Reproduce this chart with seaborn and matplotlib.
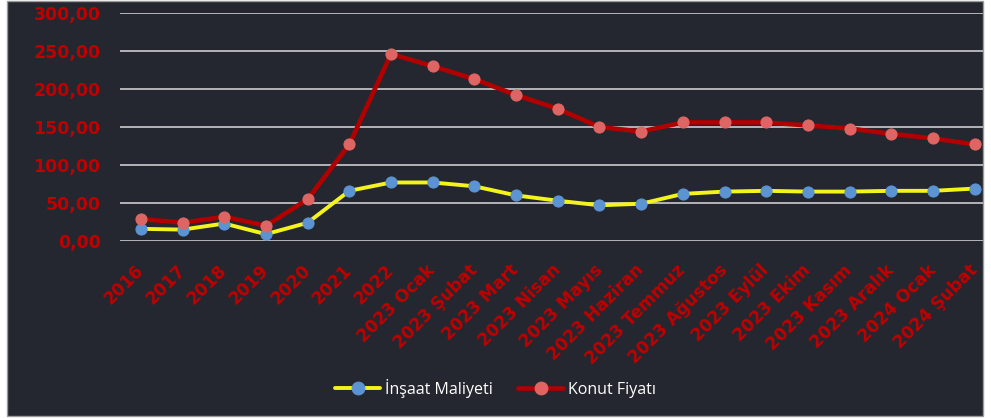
import numpy as np
import pandas as pd
import matplotlib
matplotlib.use("Agg")
import matplotlib.pyplot as plt
from matplotlib.patches import Rectangle
import seaborn as sns

# data
periods = [
    "2016", "2017", "2018", "2019", "2020", "2021", "2022",
    "2023 Ocak", "2023 Şubat", "2023 Mart", "2023 Nisan", "2023 Mayıs",
    "2023 Haziran", "2023 Temmuz", "2023 Ağustos", "2023 Eylül", "2023 Ekim",
    "2023 Kasım", "2023 Aralık", "2024 Ocak", "2024 Şubat",
]
insaat_maliyeti = [16, 15, 23, 9, 24, 66, 77, 77, 72, 60, 53, 47,
                   49, 62, 65, 66, 65, 65, 66, 66, 69]
konut_fiyati = [29, 24, 32, 20, 55, 127, 246, 230, 213, 192, 174, 150,
                144, 156, 156, 156, 152, 148, 141, 135, 127]
y_ticks = [0, 50, 100, 150, 200, 250, 300]

BG = "#24272f"
DARK_RED = "#b00000"
LABEL_RED = "#c00000"
PINK = "#dd6664"
YELLOW = "#f4f41c"
BLUE = "#5b93d3"
GRID = "#b4b4b8"

df = pd.DataFrame({
    "pos": np.arange(len(periods)),
    "donem": periods,
    "insaat": insaat_maliyeti,
    "konut": konut_fiyati,
})

sns.set_style("white")
plt.rcParams["font.family"] = ["DejaVu Sans"]

fig = plt.figure(figsize=(9.91, 4.18), dpi=100, facecolor="white")
frame = Rectangle((7 / 991, 1 - 416 / 418), 976 / 991, 415 / 418,
                  transform=fig.transFigure, facecolor=BG,
                  edgecolor="#9a9a9a", linewidth=1.0, zorder=-10)
fig.add_artist(frame)

ax = fig.add_axes([120 / 991, 1 - 241 / 418, 863 / 991, 228 / 418])
ax.set_facecolor("none")
ax.set_zorder(5)

for v in y_ticks:
    ax.axhline(v, color=GRID, lw=1.4, zorder=1)

sns.lineplot(data=df, x="pos", y="insaat", ax=ax, color=YELLOW, lw=2.8,
             marker="o", markersize=8, markerfacecolor=BLUE,
             markeredgecolor=BLUE, label="İnşaat Maliyeti", zorder=3,
             clip_on=False)
sns.lineplot(data=df, x="pos", y="konut", ax=ax, color=DARK_RED, lw=3.3,
             marker="o", markersize=8, markerfacecolor=PINK,
             markeredgecolor=PINK, label="Konut Fiyatı", zorder=4,
             clip_on=False)

ax.set_xlim(-0.5, 20.2)
ax.set_ylim(0, 300)
ax.set_xlabel("")
ax.set_ylabel("")
for s in ax.spines.values():
    s.set_visible(False)

ax.set_yticks(y_ticks)
ax.set_yticklabels([f"{v:.2f}".replace(".", ",") for v in y_ticks],
                   color=LABEL_RED, fontweight="bold", fontsize=12.5)
ax.set_xticks(df["pos"])
ax.set_xticklabels(periods, color=LABEL_RED, fontweight="bold", fontsize=12.3,
                   rotation=45, ha="right", va="center",
                   rotation_mode="anchor")
ax.tick_params(axis="y", length=0, pad=14)
ax.tick_params(axis="x", length=0, pad=19)

leg = ax.legend(loc="center", bbox_to_anchor=(0.5, 1 - 388 / 418),
                bbox_transform=fig.transFigure, ncol=2, frameon=False,
                handlelength=2.8, columnspacing=1.6, handletextpad=0.3,
                markerscale=1.15,
                prop={"family": ["Open Sans", "DejaVu Sans"], "size": 11.5})
for t in leg.get_texts():
    t.set_color("white")

fig.savefig("out.png", dpi=100, facecolor="white")
